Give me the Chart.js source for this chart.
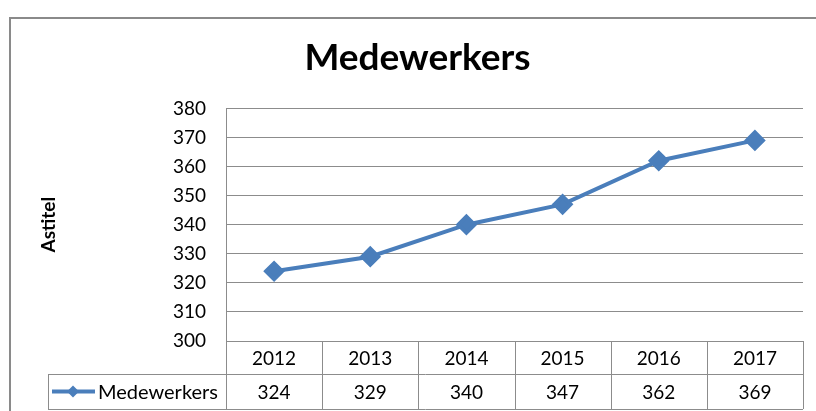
<!DOCTYPE html>
<html>
<head>
<meta charset="utf-8">
<script src="https://cdn.jsdelivr.net/npm/chart.js@4/dist/chart.umd.min.js"></script>
<style>
  html, body { margin: 0; padding: 0; background: #fff; }
  #wrap { width: 816px; height: 411px; }
</style>
</head>
<body>
<div id="wrap"><canvas id="myChart" width="816" height="411"></canvas></div>
<script>
var years = ['2012', '2013', '2014', '2015', '2016', '2017'];
var medewerkers = [324, 329, 340, 347, 362, 369];
var seriesName = 'Medewerkers';
var yTicks = [300, 310, 320, 330, 340, 350, 360, 370, 380];

var blue = '#4a7ebb';
var gridGrey = '#8c8c8c';
var font = 'Lato, "Open Sans", sans-serif';

// frame + data table under the plot, positioned from the x scale
var tablePlugin = {
    id: 'dataTable',
    beforeDraw: function (chart) {
        var c = chart.ctx;
        c.save();
        c.strokeStyle = '#8a8a8a';
        c.lineWidth = 2;
        c.beginPath();
        c.moveTo(10, 420);
        c.lineTo(10, 18);
        c.lineTo(830, 18);
        c.stroke();
        c.restore();
    },
    afterDraw: function (chart) {
        var c = chart.ctx;
        var x = chart.scales.x;
        var area = chart.chartArea;
        var rowH = 33;
        var top = area.bottom;
        var mid = top + rowH;
        var bottom = mid + 35;
        var leftCol = 48;
        var colW = (area.right - area.left) / years.length;

        c.save();
        c.strokeStyle = gridGrey;
        c.lineWidth = 1;
        c.beginPath();
        // horizontal lines
        c.moveTo(leftCol, mid + 0.5); c.lineTo(area.right, mid + 0.5);
        c.moveTo(leftCol, bottom + 0.5); c.lineTo(area.right, bottom + 0.5);
        // vertical lines
        c.moveTo(leftCol + 0.5, mid); c.lineTo(leftCol + 0.5, bottom);
        for (var i = 0; i <= years.length; i++) {
            var vx = Math.round(area.left + i * colW) + 0.5;
            c.moveTo(vx, top); c.lineTo(vx, bottom);
        }
        c.stroke();

        c.fillStyle = '#000';
        c.font = '19px ' + font;
        c.textAlign = 'center';
        c.textBaseline = 'middle';
        years.forEach(function (y, i) {
            var cx = x.getPixelForValue(i);
            c.fillText(y, cx, top + rowH / 2 + 1);
            c.fillText(String(medewerkers[i]), cx, mid + 35 / 2 + 1);
        });

        // legend key
        var ky = mid + 35 / 2;
        c.strokeStyle = blue;
        c.lineWidth = 4;
        c.beginPath();
        c.moveTo(52, ky); c.lineTo(95, ky);
        c.stroke();
        c.fillStyle = blue;
        c.beginPath();
        c.moveTo(73, ky - 6); c.lineTo(79, ky); c.lineTo(73, ky + 6); c.lineTo(67, ky);
        c.closePath();
        c.fill();
        c.fillStyle = '#000';
        c.font = '20px ' + font;
        c.textAlign = 'left';
        c.fillText(seriesName, 98, ky + 1);
        c.restore();
    }
};

var ctx = document.getElementById('myChart').getContext('2d');
var chart = new Chart(ctx, {
    type: 'line',
    data: {
        labels: years,
        datasets: [{
            label: seriesName,
            data: medewerkers,
            borderColor: blue,
            backgroundColor: blue,
            borderWidth: 4,
            pointStyle: 'rectRot',
            pointRadius: 8,
            pointHoverRadius: 8,
            tension: 0
        }]
    },
    options: {
        responsive: false,
        animation: false,
        layout: { padding: { left: 32, right: 13, top: 0, bottom: 70 } },
        plugins: {
            legend: { display: false },
            tooltip: { enabled: false },
            title: {
                display: true,
                text: 'Medewerkers',
                color: '#000',
                font: { family: font, size: 37, weight: 'bold' },
                padding: { top: 36, bottom: 28 }
            }
        },
        scales: {
            x: {
                offset: true,
                grid: { display: false, drawTicks: false },
                border: { display: false },
                ticks: { display: false }
            },
            y: {
                min: 300,
                max: 380,
                afterBuildTicks: function (axis) {
                    axis.ticks = yTicks.map(function (v) { return { value: v }; });
                },
                afterFit: function (axis) { axis.width = 194; },
                grid: { color: gridGrey, lineWidth: 1, drawTicks: false },
                border: { color: gridGrey, width: 1 },
                ticks: {
                    color: '#000',
                    padding: 20,
                    font: { family: font, size: 19 }
                },
                title: {
                    display: true,
                    text: 'Astitel',
                    color: '#000',
                    font: { family: font, size: 19, weight: 'bold' },
                    padding: { top: 5, bottom: 0 }
                }
            }
        }
    },
    plugins: [tablePlugin]
});
</script>
</body>
</html>
